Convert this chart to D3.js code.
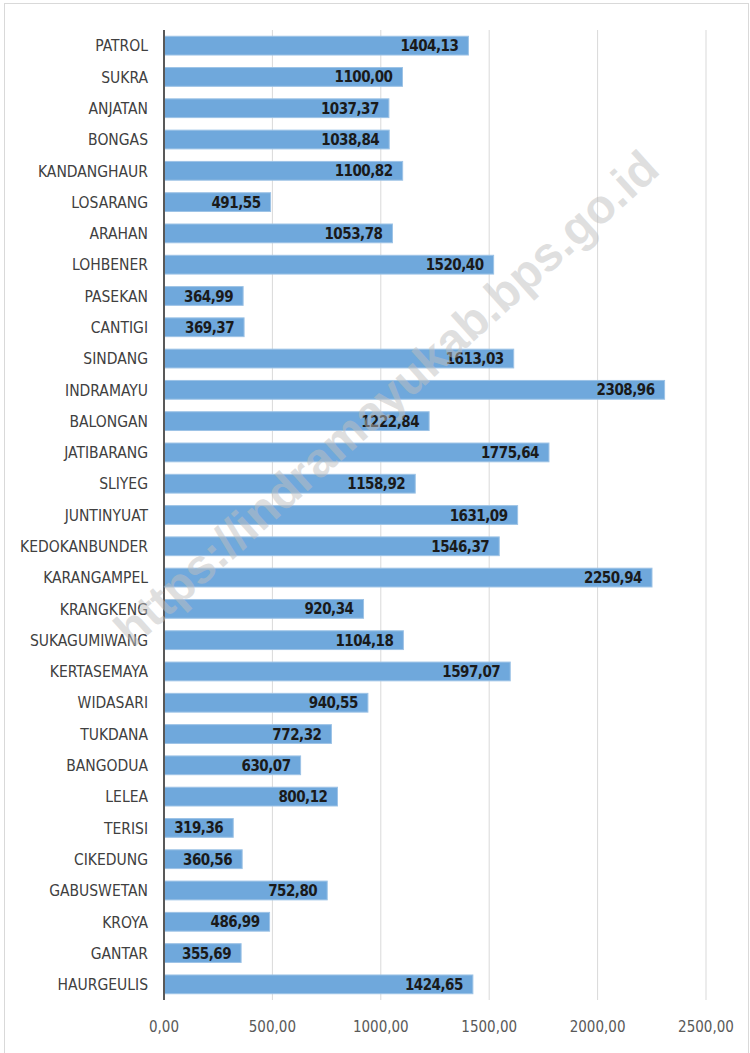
<!DOCTYPE html>
<html>
<head>
<meta charset="utf-8">
<script src="https://cdn.jsdelivr.net/npm/d3@7"></script>
<style>
  body { margin: 0; background: #fff; }
  #chart svg { display: block; }
</style>
</head>
<body>
<div id="chart"></div>
<script>
var kecamatan = ["PATROL", "SUKRA", "ANJATAN", "BONGAS", "KANDANGHAUR", "LOSARANG", "ARAHAN",
    "LOHBENER", "PASEKAN", "CANTIGI", "SINDANG", "INDRAMAYU", "BALONGAN", "JATIBARANG",
    "SLIYEG", "JUNTINYUAT", "KEDOKANBUNDER", "KARANGAMPEL", "KRANGKENG", "SUKAGUMIWANG",
    "KERTASEMAYA", "WIDASARI", "TUKDANA", "BANGODUA", "LELEA", "TERISI", "CIKEDUNG",
    "GABUSWETAN", "KROYA", "GANTAR", "HAURGEULIS"];
var nilai = [1404.13, 1100.00, 1037.37, 1038.84, 1100.82, 491.55, 1053.78,
    1520.40, 364.99, 369.37, 1613.03, 2308.96, 1222.84, 1775.64,
    1158.92, 1631.09, 1546.37, 2250.94, 920.34, 1104.18,
    1597.07, 940.55, 772.32, 630.07, 800.12, 319.36, 360.56,
    752.80, 486.99, 355.69, 1424.65];
var ticks = [0, 500, 1000, 1500, 2000, 2500];
var watermark = "https://indramayukab.bps.go.id";

var w = 750, h = 1053;
var font = "'DejaVu Sans Condensed', 'Liberation Sans Narrow', sans-serif";
var fmt = function (v) { return v.toFixed(2).replace(".", ","); };

var svg = d3.select("#chart")
    .append("svg")
    .attr("width", w)
    .attr("height", h);

// chart frame
svg.append("rect")
    .attr("x", 4.5).attr("y", 3.5)
    .attr("width", w - 6).attr("height", h + 10)
    .attr("fill", "#fff")
    .attr("stroke", "#d9d9d9");

var x = d3.scaleLinear().domain([0, 2500]).range([164, 706]);
var y = d3.scaleBand().domain(kecamatan).range([30, 1000]).paddingInner(0.4).paddingOuter(0.2);

// gridlines
svg.selectAll(".grid")
    .data(ticks.slice(1))
    .enter()
    .append("line")
    .attr("x1", function (d) { return x(d); })
    .attr("x2", function (d) { return x(d); })
    .attr("y1", 30).attr("y2", 1000)
    .attr("stroke", "#d9d9d9")
    .attr("stroke-width", 1);

// bars
svg.selectAll(".bar")
    .data(nilai)
    .enter()
    .append("rect")
    .attr("x", x(0))
    .attr("y", function (d, i) { return y(kecamatan[i]); })
    .attr("width", function (d) { return x(d) - x(0); })
    .attr("height", y.bandwidth())
    .attr("fill", "#6fa8dc")
    .attr("stroke", "#9dc3e6")
    .attr("stroke-width", 1);

// value labels
svg.selectAll(".val")
    .data(nilai)
    .enter()
    .append("text")
    .attr("x", function (d) { return x(d) - 10; })
    .attr("y", function (d, i) { return y(kecamatan[i]) + y.bandwidth() / 2; })
    .attr("dy", "0.37em")
    .attr("text-anchor", "end")
    .attr("font-family", font)
    .attr("font-weight", "bold")
    .attr("font-size", 15)
    .attr("letter-spacing", -0.5)
    .attr("fill", "#1a1a1a")
    .text(fmt);

// category labels
svg.selectAll(".cat")
    .data(kecamatan)
    .enter()
    .append("text")
    .attr("x", 148)
    .attr("y", function (d) { return y(d) + y.bandwidth() / 2; })
    .attr("dy", "0.37em")
    .attr("text-anchor", "end")
    .attr("font-family", font)
    .attr("font-size", 15.5)
    .attr("fill", "#404040")
    .text(function (d) { return d; });

// vertical axis line
svg.append("line")
    .attr("x1", x(0)).attr("x2", x(0))
    .attr("y1", 30).attr("y2", 1000)
    .attr("stroke", "#595959")
    .attr("stroke-width", 2);

// x tick labels
svg.selectAll(".tick")
    .data(ticks)
    .enter()
    .append("text")
    .attr("x", function (d) { return x(d); })
    .attr("y", 1032)
    .attr("text-anchor", "middle")
    .attr("font-family", font)
    .attr("font-size", 15)
    .attr("fill", "#595959")
    .text(fmt);

// watermark
svg.append("text")
    .attr("transform", "translate(386,398) rotate(-42)")
    .attr("text-anchor", "middle")
    .attr("dy", "0.35em")
    .attr("font-family", "'Liberation Sans', Arial, sans-serif")
    .attr("font-weight", "bold")
    .attr("font-size", 48)
    .attr("fill", "#bfbfbf")
    .attr("fill-opacity", 0.5)
    .text(watermark);
</script>
</body>
</html>
